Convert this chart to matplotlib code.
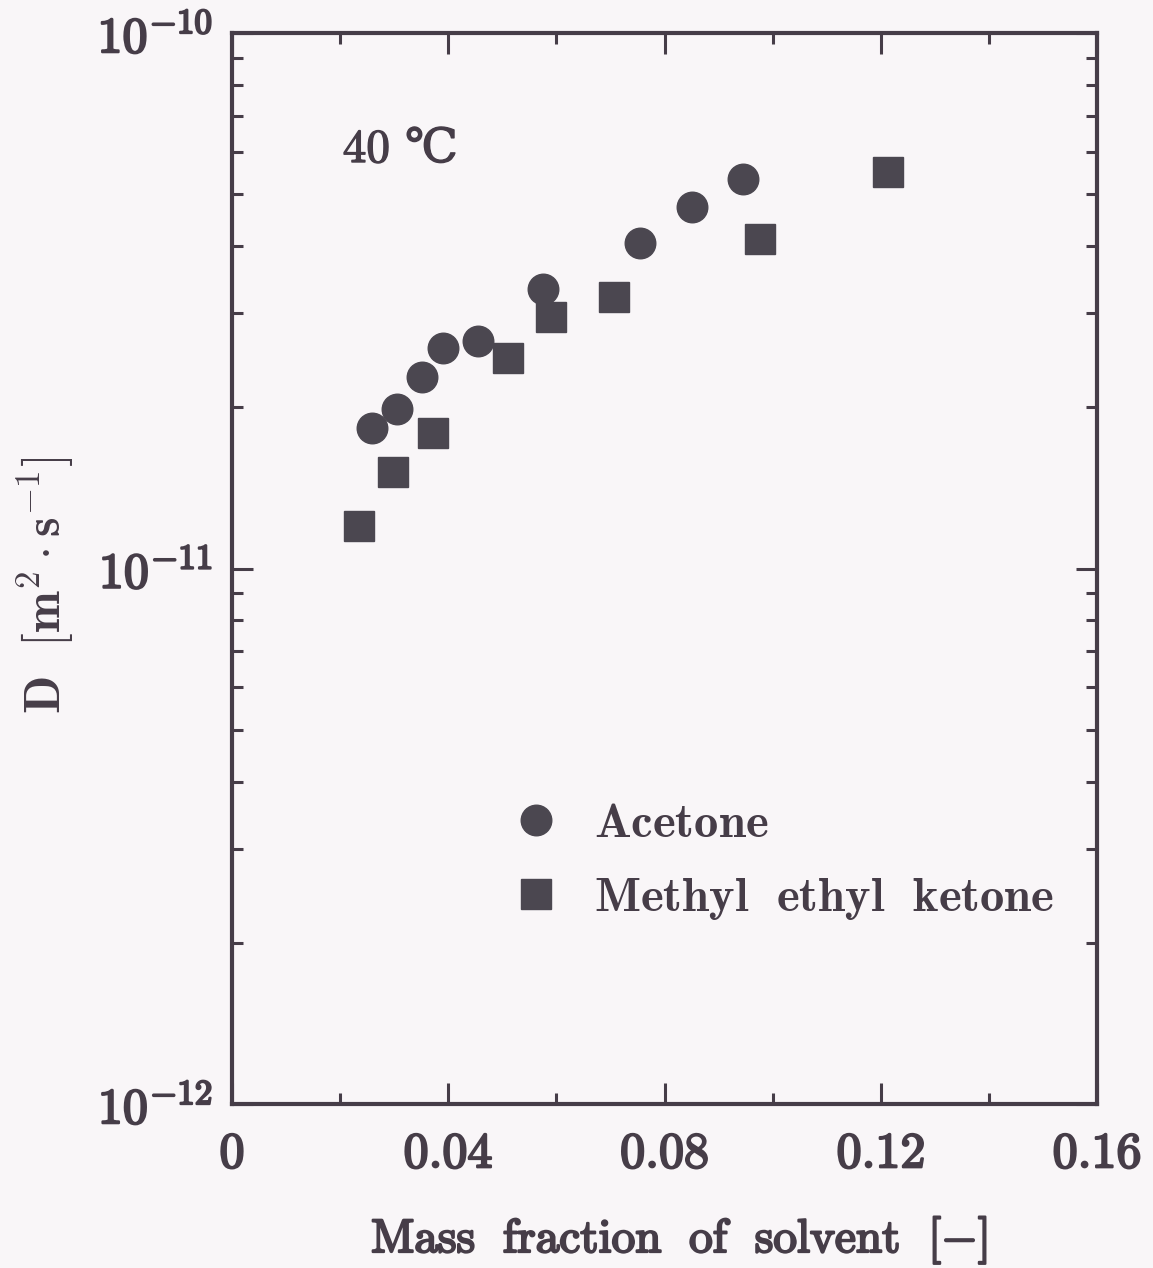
import matplotlib
matplotlib.use("Agg")
import matplotlib.pyplot as plt
import matplotlib.patheffects as pe
from matplotlib.ticker import LogLocator, MultipleLocator, FixedLocator, FuncFormatter

# Data
acetone_x = [0.0259, 0.0305, 0.0351, 0.0390, 0.0455, 0.0575, 0.0755, 0.0851, 0.0945]
acetone_D = [1.83e-11, 1.985e-11, 2.28e-11, 2.58e-11, 2.66e-11, 3.33e-11, 4.05e-11, 4.73e-11, 5.34e-11]
mek_x = [0.0235, 0.0298, 0.0372, 0.0511, 0.0590, 0.0707, 0.0977, 0.1213]
mek_D = [1.20e-11, 1.514e-11, 1.79e-11, 2.47e-11, 2.95e-11, 3.21e-11, 4.12e-11, 5.50e-11]
x_ticks = [0, 0.04, 0.08, 0.12, 0.16]
x_ticklabels = ["0", "0.04", "0.08", "0.12", "0.16"]
y_ticks = [1e-12, 1e-11, 1e-10]
y_ticklabels = [r"$10^{-12}$", r"$10^{-11}$", r"$10^{-10}$"]

ink = "#463d48"
mark = "#4b4750"
bg = "#f9f6f8"

plt.rcParams["mathtext.fontset"] = "cm"
plt.rcParams["font.family"] = ["DejaVu Serif"]

fig = plt.figure(figsize=(11.53, 12.68), dpi=100, facecolor=bg)
ax = fig.add_axes([232/1153, 164/1268, 865/1153, 1071/1268])
ax.set_facecolor(bg)

ax.plot(acetone_x, acetone_D, "o", ms=22, color=mark, mec=mark, label=r"$\mathbf{Acetone}$", linestyle="none")
ax.plot(mek_x, mek_D, "s", ms=21, color=mark, mec=mark, label=r"$\mathbf{Methyl\ \ ethyl\ \ ketone}$", linestyle="none")

ax.set_yscale("log")
ax.set_xlim(0, 0.16)
ax.set_ylim(1e-12, 1e-10)

ax.xaxis.set_major_locator(FixedLocator(x_ticks))
ax.set_xticklabels(["$" + s + "$" for s in x_ticklabels])
ax.xaxis.set_minor_locator(MultipleLocator(0.02))
ax.yaxis.set_major_locator(FixedLocator(y_ticks))
ax.set_yticklabels(y_ticklabels)
ax.yaxis.set_minor_locator(LogLocator(base=10, subs=range(2, 10), numticks=20))
ax.yaxis.set_minor_formatter(FuncFormatter(lambda v, p: ""))

for s in ax.spines.values():
    s.set_linewidth(3)
    s.set_color(ink)

ax.tick_params(which="both", direction="in", top=True, right=True, color=ink, width=2.2)
ax.tick_params(which="major", length=15, labelsize=36, labelcolor=ink)
ax.tick_params(which="minor", length=8)
ax.tick_params(axis="x", which="major", pad=18)
ax.tick_params(axis="y", which="major", pad=14)

heavy = [pe.withStroke(linewidth=1.6, foreground=ink)]
for lab in ax.get_xticklabels() + ax.get_yticklabels():
    lab.set_path_effects(heavy)

ax.set_xlabel(r"$\mathrm{Mass\ \ fraction\ \ of\ \ solvent\ \ [-]}$", fontsize=34, color=ink)
ax.xaxis.label.set_va("center")
ax.xaxis.label.set_path_effects(heavy)
ax.xaxis.set_label_coords(0.517, -0.127)
ax.set_ylabel(r"$\mathbf{D\ \ [m^2\cdot s^{-1}]}$", fontsize=36, color=ink)
ax.yaxis.label.set_va("center")
ax.yaxis.set_label_coords(-0.216, 0.4846)

t = ax.text(0.128, 0.891, "$40$ ℃", transform=ax.transAxes, fontsize=34, color=ink, va="center",
            family=["DejaVu Serif", "Noto Sans CJK SC"])
t.set_path_effects([pe.withStroke(linewidth=1.0, foreground=ink)])

leg = ax.legend(loc="center left", bbox_to_anchor=(0.301, 0.227), frameon=False,
                fontsize=35, handlelength=0.8, handletextpad=0.8, labelspacing=0.55,
                borderpad=0, labelcolor=ink)

fig.savefig("out.png", dpi=100, facecolor=bg)
